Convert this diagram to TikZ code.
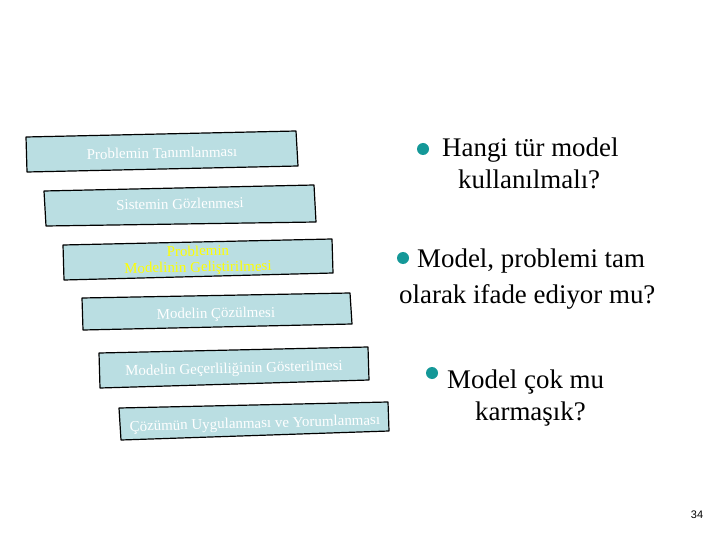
\documentclass[tikz,border=0pt]{standalone}
\usepackage{fontspec}
\setmainfont{Liberation Serif}
\newfontfamily\qfont{Liberation Serif}
\newfontfamily\pagefont{Liberation Sans}
\definecolor{boxfill}{RGB}{186,222,226}
\definecolor{bullteal}{RGB}{20,152,152}
\definecolor{stepyellow}{RGB}{255,255,0}
\begin{document}
\begin{tikzpicture}[x=1bp,y=-1bp,
  stepbox/.style={draw=black,line width=1.2bp,fill=boxfill,line join=round},
  steptext/.style={text=white,font=\qfont\fontsize{15}{16}\selectfont,inner sep=0pt,anchor=base},
  qtext/.style={text=black,font=\qfont\fontsize{27}{30}\selectfont,inner sep=0pt,anchor=base west},
  bull/.style={circle,fill=bullteal,inner sep=0pt,minimum size=12bp}]
\useasboundingbox (0,0) rectangle (720,540);
% boxes
\draw[stepbox] (26,137) -- (296,131) -- (298,166) -- (27,172) -- cycle;
\draw[stepbox] (44,191) -- (314,185) -- (316,222) -- (46,226) -- cycle;
\draw[stepbox] (63,245) -- (332,239) -- (333,273) -- (64,280) -- cycle;
\draw[stepbox] (82,298) -- (350,293) -- (352,324) -- (83,330) -- cycle;
\draw[stepbox] (99,353) -- (368,347) -- (369,380) -- (100,388) -- cycle;
\draw[stepbox] (119,408) -- (388,402) -- (389,431) -- (121,440) -- cycle;
% box texts
\node[steptext,rotate=1] (s1) at (162,158) {Problemin Tanımlanması};
\node[steptext,rotate=1] (s2) at (180,209) {Sistemin Gözlenmesi};
\node[steptext,rotate=1,text=stepyellow] (s3a) at (198,256) {Problemin};
\node[steptext,rotate=1,text=stepyellow] (s3b) at (198,272) {Modelinin Geliştirilmesi};
\node[steptext,rotate=1] (s4) at (216,318) {Modelin Çözülmesi};
\node[steptext,rotate=1.5] (s5) at (234,373) {Modelin Geçerliliğinin Gösterilmesi};
\node[steptext,rotate=1.5] (s6) at (255,428) {Çözümün Uygulanması ve Yorumlanması};
% questions
\node[bull] (b1) at (423,149) {};
\node[qtext] (q1a) at (442,157) {Hangi tür model};
\node[qtext] (q1b) at (458,189) {kullanılmalı?};
\node[bull] (b2) at (403,258) {};
\node[qtext] (q2a) at (417,268) {Model, problemi tam};
\node[qtext] (q2b) at (399,303) {olarak ifade ediyor mu?};
\node[bull] (b3) at (432,373) {};
\node[qtext] (q3a) at (447,388) {Model çok mu};
\node[qtext] (q3b) at (475,420) {karmaşık?};
% page number
\node[font=\pagefont\fontsize{11}{12}\selectfont,inner sep=0pt] (pg) at (697,515) {34};
\end{tikzpicture}
\end{document}
